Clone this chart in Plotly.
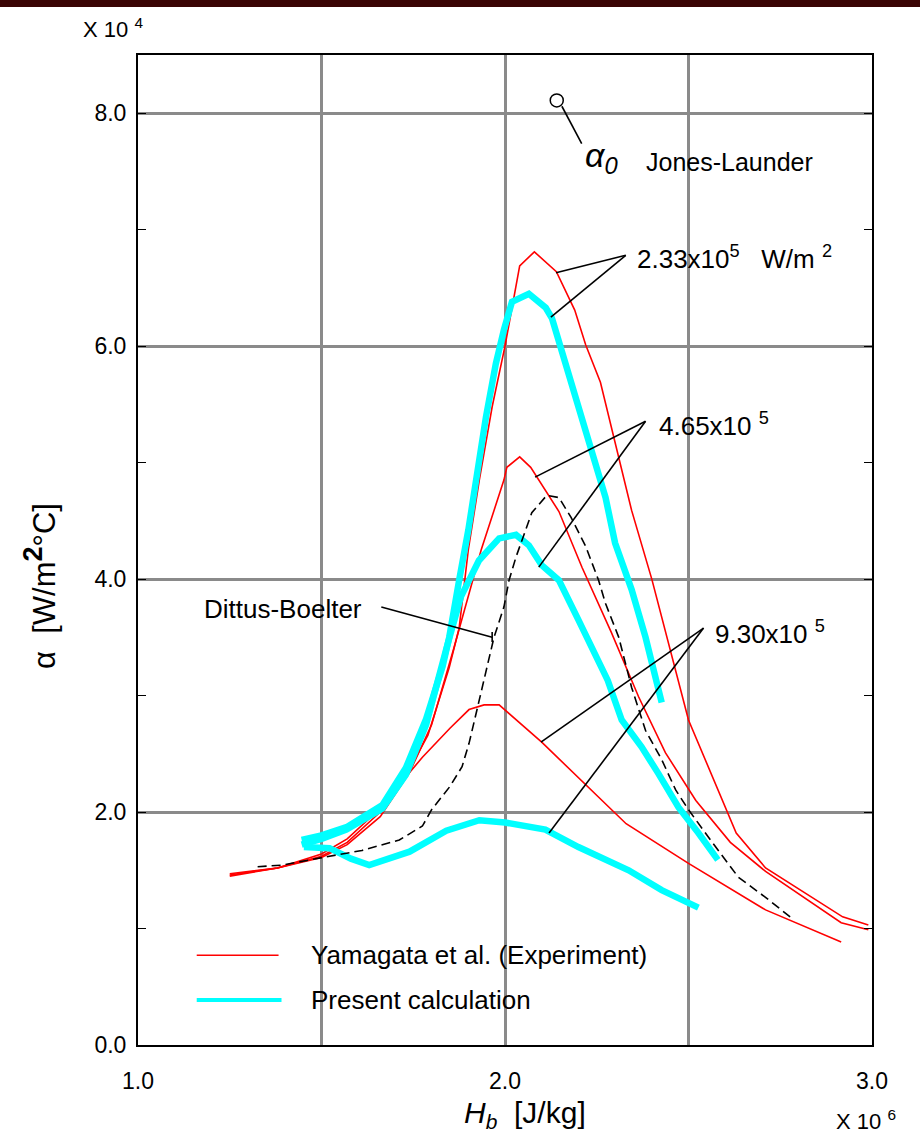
import plotly.graph_objects as go

# ---- data (x in 10^6 J/kg, y in 10^4 W/m2C) ----
r1_x = [1.25, 1.38, 1.50, 1.57, 1.66, 1.74, 1.79, 1.848, 1.875, 1.90, 1.93, 1.965, 2.0, 2.04, 2.08, 2.14, 2.19, 2.22, 2.26, 2.345, 2.40, 2.50, 2.63, 2.71, 2.92, 2.99]
r1_y = [1.46, 1.52, 1.64, 1.77, 2.03, 2.37, 2.66, 3.24, 3.58, 4.25, 4.85, 5.48, 6.00, 6.69, 6.81, 6.64, 6.31, 6.01, 5.69, 4.59, 4.00, 2.79, 1.82, 1.52, 1.10, 1.03]

r2_x = [1.25, 1.38, 1.50, 1.57, 1.66, 1.74, 1.80, 1.86, 1.935, 1.997, 2.005, 2.04, 2.07, 2.147, 2.21, 2.29, 2.364, 2.437, 2.52, 2.614, 2.71, 2.916, 2.99]
r2_y = [1.47, 1.52, 1.62, 1.74, 2.00, 2.34, 2.75, 3.40, 4.25, 4.85, 4.96, 5.05, 4.96, 4.58, 4.10, 3.54, 2.99, 2.51, 2.10, 1.74, 1.49, 1.05, 0.99]

r3_x = [1.25, 1.38, 1.50, 1.57, 1.66, 1.74, 1.775, 1.85, 1.902, 1.943, 1.984, 2.10, 2.33, 2.50, 2.71, 2.916]
r3_y = [1.45, 1.52, 1.61, 1.72, 1.96, 2.34, 2.47, 2.72, 2.88, 2.92, 2.92, 2.60, 1.90, 1.56, 1.16, 0.885]

db_x = [1.326, 1.394, 1.503, 1.61, 1.712, 1.775, 1.80, 1.85, 1.883, 1.902, 1.929, 1.97, 1.997, 2.011, 2.03, 2.073, 2.114, 2.147, 2.18, 2.22, 2.255, 2.274, 2.31, 2.345, 2.383, 2.427, 2.465, 2.50, 2.56, 2.636, 2.709, 2.777]
db_y = [1.53, 1.545, 1.61, 1.67, 1.76, 1.88, 2.02, 2.22, 2.39, 2.59, 2.95, 3.50, 3.76, 3.99, 4.19, 4.57, 4.72, 4.70, 4.53, 4.28, 3.99, 3.79, 3.50, 3.07, 2.70, 2.45, 2.19, 2.02, 1.76, 1.44, 1.27, 1.10]

c1_x = [1.446, 1.50, 1.568, 1.666, 1.73, 1.785, 1.83, 1.848, 1.875, 1.90, 1.948, 1.975, 1.997, 2.019, 2.065, 2.111, 2.128, 2.165, 2.22, 2.274, 2.30, 2.345, 2.383, 2.41, 2.427]
c1_y = [1.76, 1.80, 1.87, 2.06, 2.38, 2.80, 3.25, 3.50, 3.99, 4.42, 5.39, 5.85, 6.14, 6.38, 6.45, 6.33, 6.24, 5.85, 5.28, 4.70, 4.31, 3.91, 3.50, 3.13, 2.94]

c2_x = [1.446, 1.50, 1.568, 1.666, 1.73, 1.785, 1.84, 1.88, 1.929, 1.984, 2.03, 2.065, 2.10, 2.147, 2.20, 2.236, 2.28, 2.318, 2.372, 2.418, 2.473, 2.527, 2.58]
c2_y = [1.72, 1.77, 1.85, 2.03, 2.32, 2.75, 3.40, 3.85, 4.16, 4.35, 4.38, 4.29, 4.12, 3.99, 3.65, 3.42, 3.13, 2.79, 2.56, 2.33, 2.04, 1.82, 1.59]

c3_x = [1.452, 1.522, 1.58, 1.63, 1.74, 1.84, 1.93, 2.0, 2.11, 2.20, 2.337, 2.427, 2.527]
c3_y = [1.70, 1.69, 1.60, 1.545, 1.66, 1.84, 1.93, 1.91, 1.85, 1.70, 1.50, 1.33, 1.18]

jl_x = [2.141]
jl_y = [8.11]

x_ticks = [1.0, 1.5, 2.0, 2.5, 3.0]
x_labels = ["1.0", "", "2.0", "", "3.0"]
y_ticks = [0, 2, 4, 6, 8]
y_labels = ["0.0", "2.0", "4.0", "6.0", "8.0"]

RED = "#ff0000"
CYAN = "#00ffff"
FONT = "Liberation Sans, Arial, sans-serif"

fig = go.Figure()
for xs, ys in [(r1_x, r1_y), (r2_x, r2_y), (r3_x, r3_y)]:
    fig.add_trace(go.Scatter(x=xs, y=ys, mode="lines", line=dict(color=RED, width=1.6), showlegend=False))
for xs, ys in [(c1_x, c1_y), (c2_x, c2_y), (c3_x, c3_y)]:
    fig.add_trace(go.Scatter(x=xs, y=ys, mode="lines", line=dict(color=CYAN, width=6.5), showlegend=False))
fig.add_trace(go.Scatter(x=db_x, y=db_y, mode="lines", line=dict(color="black", width=1.6, dash="9px,5px"), showlegend=False))
fig.add_trace(go.Scatter(x=jl_x, y=jl_y, mode="markers",
                         marker=dict(symbol="circle-open", size=13, color="black", line=dict(width=1.5)), showlegend=False))

shapes = []
def seg(x0, y0, x1, y1, color="black", width=1.6):
    shapes.append(dict(type="line", xref="x", yref="y", x0=x0, y0=y0, x1=x1, y1=y1,
                       line=dict(color=color, width=width)))

# leader lines
seg(2.329, 6.78, 2.139, 6.63)
seg(2.329, 6.78, 2.125, 6.25)
seg(2.383, 5.356, 2.082, 4.876)
seg(2.383, 5.356, 2.092, 4.103)
seg(2.541, 3.58, 2.098, 2.60)
seg(2.541, 3.58, 2.12, 1.82)
seg(1.663, 3.76, 1.965, 3.50)
seg(1.965, 3.545, 1.965, 3.46)
seg(2.155, 8.06, 2.209, 7.74)
# legend samples
seg(1.160, 0.77, 1.383, 0.77, RED, 1.6)
seg(1.160, 0.386, 1.391, 0.386, CYAN, 4)

# top dark bar
shapes.append(dict(type="rect", xref="paper", yref="paper", x0=-0.25, x1=1.15,
                   y0=(1045 - 7) / 990, y1=1.07,
                   fillcolor="#3a0404", line=dict(width=0), layer="above"))

ann = []
def txt(x, y, s, size=26, xanchor="left"):
    ann.append(dict(x=x, y=y, xref="x", yref="y", text=s, showarrow=False, xanchor=xanchor,
                    yanchor="middle", font=dict(family=FONT, size=size, color="black")))

txt(2.353, 6.76, "2.33x10<sup>5</sup>&nbsp;&nbsp;&nbsp;W/m&nbsp;<sup>2</sup>", 26)
txt(2.413, 5.33, "4.65x10&nbsp;<sup>5</sup>", 26)
txt(2.568, 3.545, "9.30x10&nbsp;<sup>5</sup>", 26)
txt(1.174, 3.74, "Dittus-Boelter", 26)
txt(2.213, 7.62, "<i>α<sub>0</sub></i>", 34)
txt(2.378, 7.58, "Jones-Launder", 25)
txt(1.466, 0.775, "Yamagata et al. (Experiment)", 26)
txt(1.466, 0.39, "Present calculation", 26)

# paper-positioned labels
def ptxt(px, py, s, size, xanchor="center", angle=0):
    ann.append(dict(xref="paper", yref="paper", x=(px - 138) / 734, y=(1045 - py) / 990, text=s,
                    showarrow=False, xanchor=xanchor, yanchor="middle", textangle=angle,
                    font=dict(family=FONT, size=size, color="black")))

ptxt(113, 28, "X 10 <sup>4</sup>", 22)
ptxt(866, 1120, "X 10 <sup>6</sup>", 22)
ptxt(525, 1114, "<i>H<sub>b</sub></i>&nbsp;&nbsp;[J/kg]", 30)
ptxt(40, 586, "α&nbsp;&nbsp;[W/m<sup><span style='font-size:27px'><b>2</b></span></sup>°C]", 31, angle=-90)

fig.update_layout(
    width=920, height=1136,
    margin=dict(l=138, r=48, t=55, b=91),
    paper_bgcolor="white", plot_bgcolor="white",
    font=dict(family=FONT, size=23, color="black"),
    shapes=shapes,
    annotations=ann,
    xaxis=dict(range=[1.0, 3.0], tickvals=x_ticks, ticktext=x_labels,
               showgrid=True, gridcolor="#8a8a8a", gridwidth=3,
               showline=True, linecolor="black", linewidth=2, mirror=True,
               ticks="", zeroline=False, ticklabelstandoff=14,
               tickfont=dict(size=23)),
    yaxis=dict(range=[0, 8.5], tickvals=y_ticks, ticktext=y_labels,
               showgrid=True, gridcolor="#8a8a8a", gridwidth=3,
               showline=True, linecolor="black", linewidth=2, mirror="ticks",
               ticks="inside", ticklen=8, tickcolor="black", zeroline=False,
               ticklabelstandoff=5, tickfont=dict(size=23),
               minor=dict(tickvals=[1, 3, 5, 7], ticks="inside", ticklen=8, tickcolor="black", showgrid=False)),
)

fig.write_html("out.html", config={"displayModeBar": False},
               post_script="document.body.style.margin='0';document.body.style.overflow='hidden';")
